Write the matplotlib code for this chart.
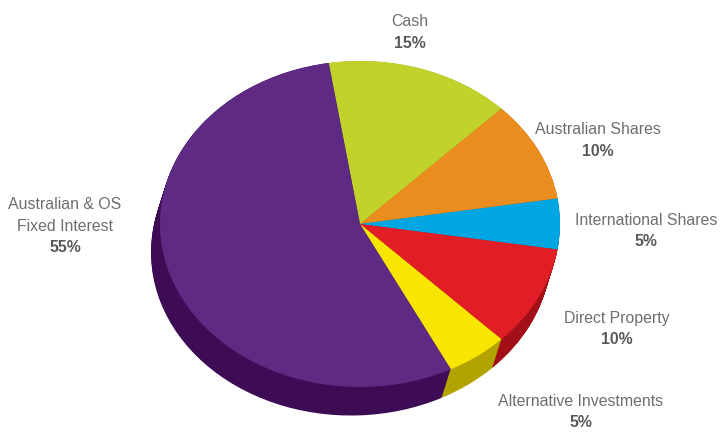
import matplotlib
matplotlib.use("Agg")
import matplotlib.pyplot as plt
import numpy as np

plt.rcParams['font.family'] = ['Liberation Sans', 'DejaVu Sans']

# data
names = ["Cash", "Australian Shares", "International Shares", "Direct Property",
         "Alternative Investments", "Australian & OS\nFixed Interest"]
shares = [15, 10, 5, 10, 5, 55]
pct_labels = ["15%", "10%", "5%", "10%", "5%", "55%"]

top_colors = ["#C1D22B", "#EB8C1F", "#00A6E2", "#E11E26", "#F9E600", "#5E2A84"]
side_colors = ["#8C9A1C", "#A86214", "#00739E", "#A30F17", "#B3A300", "#3E0C55"]

# label anchors in pixels (x centre, y of first line), from top-left
label_pos = [(410, 22), (598, 130), (646, 220), (617, 318), (581, 401), (65, 205)]

W, H = 720, 432
fig = plt.figure(figsize=(W / 100, H / 100), dpi=100)
ax = fig.add_axes([0, 0, 1, 1])

start = 99
# side of the 3d pie: stack of darker pies shifted down-left
depth_x, depth_y = -0.045, 0.175
for k in np.linspace(1, 0, 40):
    ax.pie(shares, colors=side_colors, startangle=start, counterclock=False,
           center=(depth_x * k, -depth_y * k), radius=1,
           wedgeprops=dict(linewidth=0, antialiased=True))

# top face
ax.pie(shares, colors=top_colors, startangle=start, counterclock=False,
       center=(0, 0), radius=1, wedgeprops=dict(linewidth=0))

cx, cy = 360, 224
rx, ry = 200, 163
ax.set_aspect('auto')
ax.set_xlim(-cx / rx, (W - cx) / rx)
ax.set_ylim(-(H - cy) / ry, cy / ry)
ax.axis('off')

line_h = 21.5
for name, pct, (x, y) in zip(names, pct_labels, label_pos):
    n = name.count("\n") + 1
    for i, line in enumerate(name.split("\n")):
        fig.text(x / W, 1 - (y + i * line_h) / H, line, ha='center', va='center',
                 fontsize=11.4, color="#6e6e6e")
    fig.text(x / W, 1 - (y + n * line_h) / H, pct, ha='center', va='center',
             fontsize=11.4, fontweight='bold', color="#585858")

fig.savefig("out.png", dpi=100)
